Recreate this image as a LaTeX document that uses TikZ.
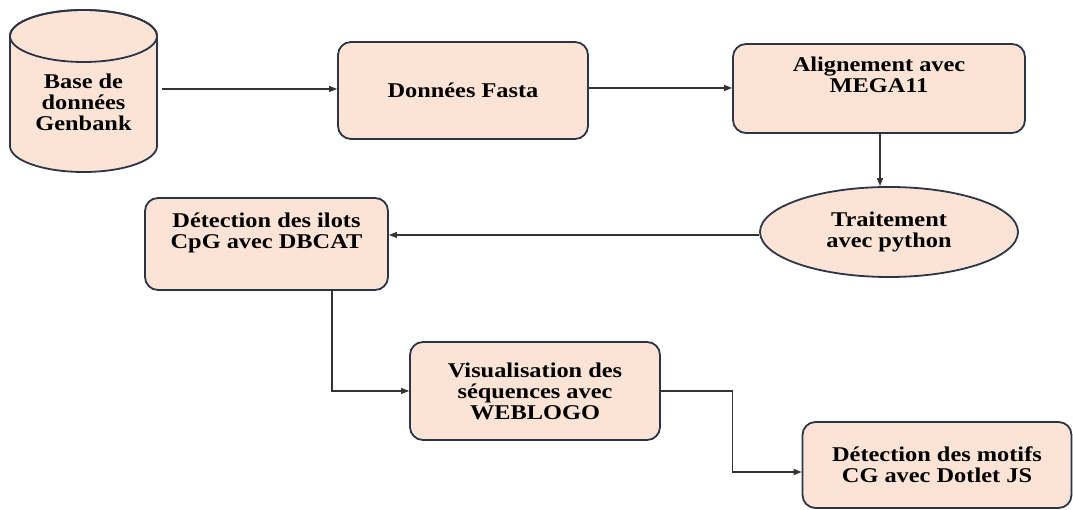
\documentclass[tikz,border=0pt]{standalone}
\usepackage{fontspec}
\setmainfont{Liberation Serif}[FakeStretch=1.16]
\usetikzlibrary{shapes.geometric,arrows.meta}
\definecolor{peach}{HTML}{FBE4D6}
\definecolor{edge}{HTML}{2C3547}
\definecolor{wire}{HTML}{333333}
\tikzset{
  procbox/.style={draw=edge, line width=1.8pt, fill=peach, rounded corners=13pt, align=center,
    font=\fontsize{21}{21}\selectfont\bfseries, inner sep=0pt},
  ovalbox/.style={ellipse, draw=edge, line width=1.8pt, fill=peach, align=center,
    font=\fontsize{21}{21}\selectfont\bfseries, inner sep=0pt},
  plaintext/.style={align=center, font=\fontsize{21}{21}\selectfont\bfseries, inner sep=0pt},
  link/.style={draw=wire, line width=1.1pt, -{Triangle[length=8pt,width=6pt]}}
}
\begin{document}
\begin{tikzpicture}[x=1pt,y=1pt]
\useasboundingbox (0,0) rectangle (1073,510);
% cylinder
\path[fill=peach, draw=edge, line width=1.8pt]
  (10,474) -- (10,364) arc[start angle=180, end angle=360, x radius=73.5, y radius=26]
  -- (157,474) arc[start angle=0, end angle=180, x radius=73.5, y radius=26] -- cycle;
\draw[edge, line width=1.8pt] (83.5,474) ellipse[x radius=73.5, y radius=26];
\node[plaintext] (db) at (83.5,408) {Base de\\données\\Genbank};
\coordinate (dbout) at (162,421);

\node[procbox, minimum width=250pt, minimum height=97pt] (fasta) at (463,419.5) {Données Fasta};
\node[procbox, minimum width=292pt, minimum height=89pt] (align) at (879,421.5) {Alignement avec\\MEGA11\\[6pt]};
\node[ovalbox, minimum width=258pt, minimum height=90pt] (py) at (889,278) {Traitement\\avec python};
\node[procbox, minimum width=243pt, minimum height=92pt] (det) at (266.5,266) {Détection des ilots\\CpG avec DBCAT\\[6pt]};
\node[procbox, minimum width=250pt, minimum height=98pt] (vis) at (535,119) {Visualisation des\\séquences avec\\WEBLOGO};
\node[procbox, minimum width=269pt, minimum height=86pt] (dot) at (937,45) {Détection des motifs\\CG avec Dotlet JS};

\draw[link] (dbout) -- (dbout -| fasta.west);
\draw[link] (fasta.east |- 0,422) -- (align.west |- 0,422);
\draw[link] (align.south -| 880,0) -- (py.north -| 880,0);
\draw[link] (py.west |- 0,275) -- (det.east |- 0,275);
\draw[link] ([xshift=65.5pt]det.south) |- (vis.west);
\draw[link] (vis.east) -- ++(72,0) |- ([yshift=-7pt]dot.west);
\end{tikzpicture}
\end{document}
